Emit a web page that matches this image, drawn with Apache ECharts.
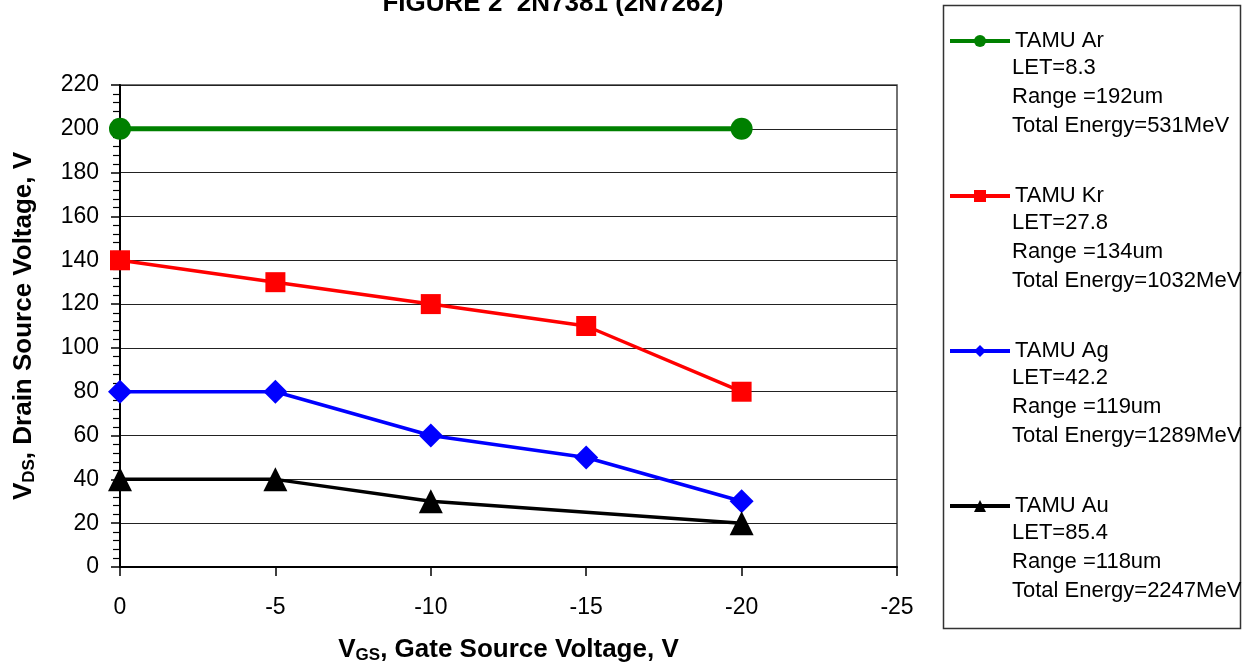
<!DOCTYPE html>
<html>
<head>
<meta charset="utf-8">
<script src="https://cdn.jsdelivr.net/npm/echarts@6/dist/echarts.min.js"></script>
<style>
html,body{margin:0;padding:0;background:#fff;}
#c{width:1248px;height:662px;}
</style>
</head>
<body>
<div id="c"></div>
<script>
// ---- data ----
var titleText = 'FIGURE 2  2N7381 (2N7262)';
var seriesNames = ['TAMU Ar', 'TAMU Kr', 'TAMU Ag', 'TAMU Au'];
var seriesColors = ['#008000', '#ff0000', '#0000ff', '#000000'];
var seriesSymbols = ['circle', 'rect', 'diamond', 'triangle'];
var arData = [[0, 200], [-20, 200]];
var krData = [[0, 140], [-5, 130], [-10, 120], [-15, 110], [-20, 80]];
var agData = [[0, 80], [-5, 80], [-10, 60], [-15, 50], [-20, 30]];
var auData = [[0, 40], [-5, 40], [-10, 30], [-20, 20]];
var legendDetails = [
  ['LET=8.3', 'Range =192um', 'Total Energy=531MeV'],
  ['LET=27.8', 'Range =134um', 'Total Energy=1032MeV'],
  ['LET=42.2', 'Range =119um', 'Total Energy=1289MeV'],
  ['LET=85.4', 'Range =118um', 'Total Energy=2247MeV']
];
var xMin = -25, xMax = 0, xStep = 5;
var yMin = 0, yMax = 220, yStep = 20;

var FONT = '"Liberation Sans", Arial, sans-serif';
var allData = [arData, krData, agData, auData];
var symbolSizes = [22, 20, 24, 24];
var lineWidths = [5, 3.5, 3.5, 3.5];

var chart = echarts.init(document.getElementById('c'), null, {renderer: 'canvas'});

var series = seriesNames.map(function (n, i) {
  return {
    name: n,
    type: 'line',
    data: allData[i],
    symbol: seriesSymbols[i],
    symbolSize: symbolSizes[i],
    clip: false,
    color: seriesColors[i],
    lineStyle: {width: lineWidths[i], color: seriesColors[i]},
    itemStyle: {color: seriesColors[i]},
    emphasis: {disabled: true},
    animation: false
  };
});

var blockTop = 40, blockGap = 155, lineGap = 29;
var legends = seriesNames.map(function (n, i) {
  return {
    data: [n],
    left: 948,
    top: blockTop + i * blockGap - 10,
    padding: 0,
    itemWidth: 60,
    itemHeight: 15,
    itemGap: 0,
    selectedMode: false,
    itemStyle: {borderWidth: 0},
    lineStyle: {width: 4},
    textStyle: {fontFamily: FONT, fontSize: 22, color: '#000'}
  };
});

var graphics = [{
  type: 'rect',
  shape: {x: 943.5, y: 5.5, width: 297, height: 623},
  style: {fill: 'none', stroke: '#333', lineWidth: 1.5},
  silent: true
}];
legendDetails.forEach(function (lines, i) {
  lines.forEach(function (t, j) {
    graphics.push({
      type: 'text',
      left: 1012,
      top: blockTop + i * blockGap + (j + 1) * lineGap - 12,
      style: {text: t, font: '22px ' + FONT, fill: '#000'},
      silent: true
    });
  });
});

var richTitle = {
  b: {fontFamily: FONT, fontSize: 26, fontWeight: 'bold', color: '#000'},
  s: {fontFamily: FONT, fontSize: 17, fontWeight: 'bold', color: '#000', verticalAlign: 'bottom', padding: [12, 0, 0, 0]}
};

var option = {
  backgroundColor: '#fff',
  animation: false,
  title: {
    text: titleText,
    left: 548,
    textAlign: 'center',
    top: -14,
    textStyle: {fontFamily: FONT, fontSize: 26, fontWeight: 'bold', color: '#000'}
  },
  legend: legends,
  grid: {
    left: 120, right: 351, top: 85, bottom: 95,
    containLabel: false,
    outerBoundsMode: 'none',
    show: true, borderColor: '#444', borderWidth: 1.5, backgroundColor: '#fff'
  },
  xAxis: {
    type: 'value',
    inverse: true,
    min: xMin, max: xMax, interval: xStep,
    axisLine: {show: true, onZero: false, lineStyle: {color: '#000', width: 2}},
    axisTick: {show: true, length: 9, lineStyle: {color: '#000', width: 1.5}},
    splitLine: {show: false},
    axisLabel: {margin: 29, fontFamily: FONT, fontSize: 23, color: '#000'},
    name: '{b|V}{s|GS}{b|, Gate Source Voltage, V}',
    nameLocation: 'middle',
    nameGap: 68,
    nameTextStyle: {rich: richTitle}
  },
  yAxis: {
    type: 'value',
    min: yMin, max: yMax, interval: yStep,
    axisLine: {show: true, lineStyle: {color: '#000', width: 2}},
    axisTick: {show: true, length: 9, lineStyle: {color: '#000', width: 1.5}},
    minorTick: {show: true, splitNumber: 5, length: 7, lineStyle: {color: '#000', width: 1.2}},
    splitLine: {show: true, lineStyle: {color: '#222', width: 1.2}},
    axisLabel: {margin: 21, fontFamily: FONT, fontSize: 23, color: '#000'},
    name: '{b|V}{s|DS}{b|, Drain Source Voltage, V}',
    nameLocation: 'middle',
    nameGap: 82,
    nameTextStyle: {rich: richTitle}
  },
  graphic: graphics,
  series: series
};
chart.setOption(option);
</script>
</body>
</html>
